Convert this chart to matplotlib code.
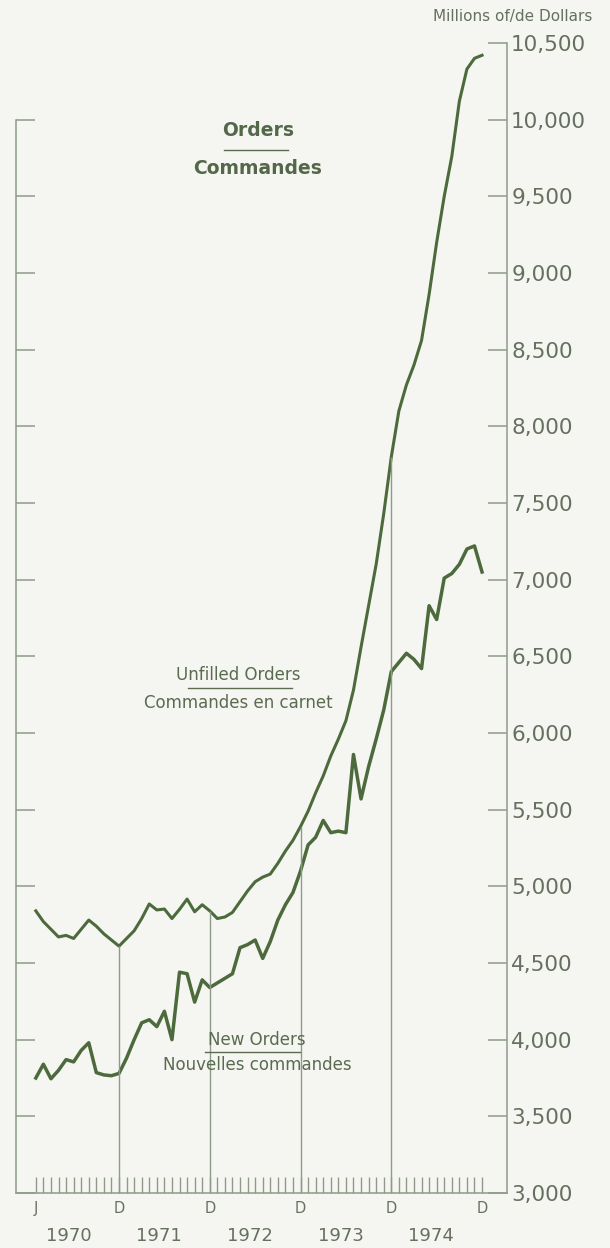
import numpy as np
import matplotlib
matplotlib.use('Agg')
import matplotlib.pyplot as plt
from matplotlib.lines import Line2D
from matplotlib.ticker import FuncFormatter

# monthly values, Jan 1970 .. Dec 1974, millions of dollars
unfilled = [4840, 4770, 4720, 4670, 4680, 4660, 4720, 4780, 4740, 4690, 4650, 4610,
            4660, 4710, 4790, 4885, 4846, 4852, 4790, 4850, 4917, 4834, 4880, 4840,
            4790, 4800, 4830, 4900, 4970, 5030, 5060, 5080, 5150, 5230, 5300, 5390,
            5490, 5610, 5720, 5850, 5960, 6080, 6280, 6560, 6830, 7100, 7430, 7800,
            8100, 8270, 8400, 8560, 8860, 9200, 9500, 9760, 10120, 10330, 10400, 10420]
new_orders = [3750, 3840, 3745, 3800, 3870, 3855, 3930, 3980, 3785, 3770, 3765, 3780,
              3880, 4000, 4110, 4130, 4085, 4185, 4000, 4440, 4430, 4245, 4390, 4340,
              4370, 4400, 4430, 4600, 4620, 4650, 4530, 4640, 4780, 4880, 4960, 5100,
              5270, 5320, 5430, 5350, 5360, 5350, 5860, 5570, 5780, 5960, 6150, 6400,
              6460, 6520, 6480, 6420, 6830, 6740, 7010, 7040, 7100, 7200, 7220, 7050]
months = np.arange(len(unfilled))
label_months = [0, 11, 23, 35, 47, 59]
month_labels = ['J', 'D', 'D', 'D', 'D', 'D']
drop_months = [11, 23, 35, 47]
years = ['1970', '1971', '1972', '1973', '1974']
year_pos = [4.3, 16.3, 28.3, 40.3, 52.3]
y_ticks = np.arange(3000, 10501, 500)

W, H = 610, 1248
line_col = '#4d6a3d'
axis_col = '#8f9b88'
text_col = '#66705f'
label_col = '#5a6b50'
bg = '#f5f6f1'

fig = plt.figure(figsize=(W / 100, H / 100), dpi=100, facecolor=bg)
ax = fig.add_axes([16 / W, 1 - 1193 / H, (507 - 16) / W, (1193 - 43) / H])
ax.set_facecolor(bg)

ax.plot(months, unfilled, color=line_col, lw=2.2, solid_joinstyle='round')
ax.plot(months, new_orders, color=line_col, lw=2.5, solid_joinstyle='round')
ax.vlines(drop_months, 3000, [unfilled[m] for m in drop_months], color=axis_col, lw=1.0)

ax.set_xlim(-2.62, 62.3)
ax.set_ylim(3000, 10500)

ax.spines['top'].set_visible(False)
for s in ['left', 'right', 'bottom']:
    ax.spines[s].set_color(axis_col)
    ax.spines[s].set_linewidth(1.1)
ax.spines['left'].set_bounds(3000, 10000)

ax.set_yticks(y_ticks)
ax.yaxis.set_major_formatter(FuncFormatter(lambda v, p: f'{int(v):,}'))
ax.tick_params(axis='y', left=True, right=True, labelleft=False, labelright=True,
               direction='in', length=14, width=1.1, color=axis_col,
               labelsize=15.5, labelcolor=text_col, pad=3)
ax.yaxis.get_major_ticks()[-1].tick1line.set_visible(False)

ax.set_xticks(label_months)
ax.set_xticklabels(month_labels)
ax.set_xticks(months, minor=True)
ax.tick_params(axis='x', which='both', direction='in', length=11.5, width=1.0,
               color=axis_col, labelsize=10.5, labelcolor=text_col, pad=6)

for yr, pos in zip(years, year_pos):
    ax.annotate(yr, xy=(pos, 0), xycoords=('data', 'axes fraction'),
                xytext=(0, -31), textcoords='offset points',
                ha='center', va='center', fontsize=13, color=text_col)


def ftext(x, y, s, **kw):
    fig.text(x / W, 1 - y / H, s, ha='center', va='center', **kw)


def fline(x0, x1, y):
    fig.add_artist(Line2D([x0 / W, x1 / W], [1 - y / H, 1 - y / H],
                          color=label_col, lw=1.0))


ftext(513, 17, 'Millions of/de Dollars', fontsize=11, color=text_col)

ftext(258, 131, 'Orders', fontsize=13.5, fontweight='bold', color='#536848')
fline(224, 288, 150)
ftext(258, 168, 'Commandes', fontsize=13.5, fontweight='bold', color='#536848')

ftext(238, 675, 'Unfilled Orders', fontsize=12, color=label_col)
fline(188, 292, 688)
ftext(238, 703, 'Commandes en carnet', fontsize=12, color=label_col)

ftext(257, 1040, 'New Orders', fontsize=12, color=label_col)
fline(205, 300, 1052)
ftext(257, 1065, 'Nouvelles commandes', fontsize=12, color=label_col)

fig.savefig('out.png', dpi=100, facecolor=bg)
